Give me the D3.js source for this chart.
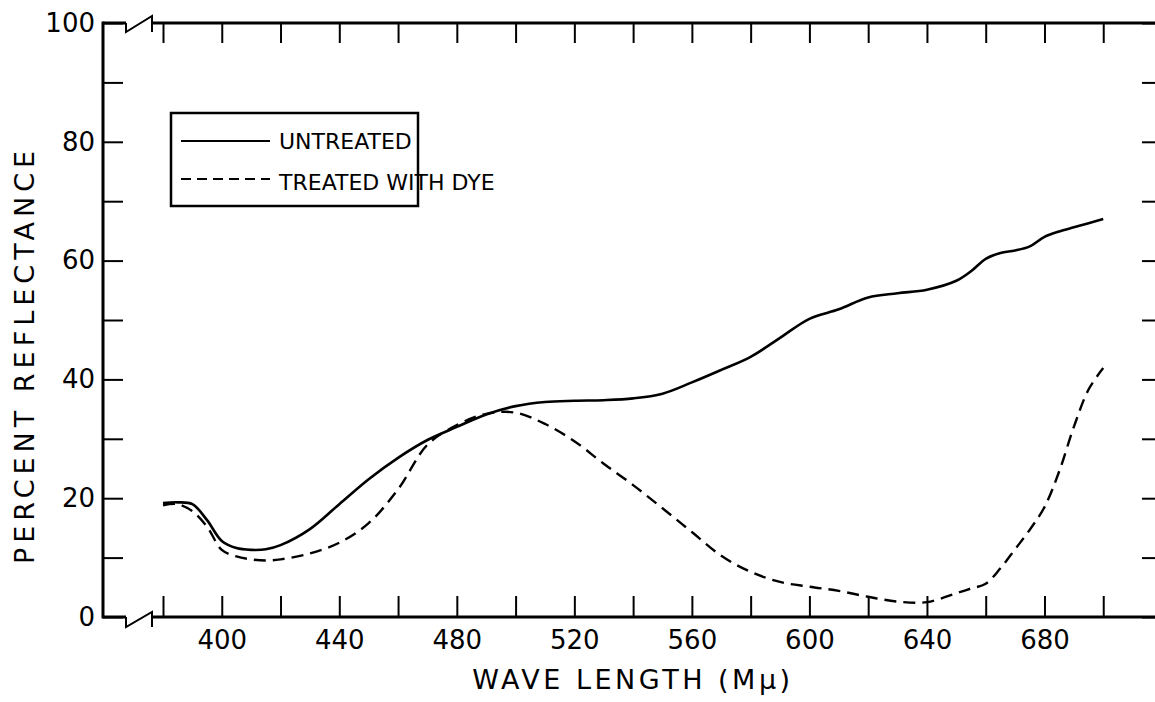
<!DOCTYPE html>
<html>
<head>
<meta charset="utf-8">
<script src="https://cdn.jsdelivr.net/npm/d3@7"></script>
<style>
  body { margin: 0; background: #fff; }
  svg { display: block; }
  svg text { font-family: "DejaVu Sans", sans-serif; fill: #000; }
</style>
</head>
<body>
<script>
// wavelength (m-mu) and percent reflectance
var wavelengths = [380, 385, 390, 395, 400, 405, 410, 415, 420, 430, 440, 450, 460, 470, 480,
                   490, 500, 510, 520, 530, 540, 550, 560, 570, 580, 590, 600, 610, 620, 630,
                   640, 650, 655, 660, 665, 670, 675, 680, 685, 690, 695, 700];
var untreated = [19.2, 19.3, 19.0, 16.3, 12.8, 11.6, 11.3, 11.4, 12.1, 14.8, 19.0, 23.2, 26.8, 29.8, 32.0,
                 34.1, 35.5, 36.2, 36.4, 36.5, 36.8, 37.6, 39.5, 41.6, 43.8, 47.0, 50.2, 51.8, 53.8, 54.5,
                 55.1, 56.6, 58.2, 60.3, 61.3, 61.7, 62.4, 64.0, 64.9, 65.6, 66.3, 67.0];
var treated = [18.8, 19.0, 17.8, 15.2, 11.3, 10.2, 9.7, 9.5, 9.7, 10.7, 12.5, 15.8, 21.5, 29.0, 32.3,
               34.2, 34.4, 32.5, 29.6, 25.8, 22.2, 18.3, 14.3, 10.3, 7.6, 5.9, 5.1, 4.4, 3.4, 2.6,
               2.5, 4.0, 4.8, 5.6, 8.2, 11.4, 14.7, 18.5, 24.5, 32.0, 38.3, 41.9];
var xTicks = d3.range(380, 721, 20);
var xLabels = [400, 440, 480, 520, 560, 600, 640, 680];
var yTicks = d3.range(0, 101, 10);
var yLabels = [0, 20, 40, 60, 80, 100];
var legendNames = ["UNTREATED", "TREATED WITH DYE"];

var width = 1155, height = 702;
var plotLeft = 103, plotTop = 23, plotBottom = 617;

var svg = d3.select('body')
    .append('svg')
    .attr('width', width)
    .attr('height', height);

var xscale = d3.scaleLinear().domain([380, 720]).range([163, 1162]);
var yscale = d3.scaleLinear().domain([0, 100]).range([plotBottom, plotTop]);

//bottom axis
var xAxisCall = d3.axisBottom(xscale)
    .tickValues(xTicks)
    .tickSizeInner(-21)
    .tickSizeOuter(0)
    .tickPadding(14)
    .tickFormat(function(d) { return xLabels.indexOf(d) >= 0 ? d : ""; });

var xAxis = svg.append('g')
    .attr('class', 'x-axis')
    .attr('transform', 'translate(0,' + plotBottom + ')')
    .call(xAxisCall);

//top axis, ticks only
var topAxis = svg.append('g')
    .attr('transform', 'translate(0,' + plotTop + ')')
    .call(d3.axisTop(xscale).tickValues(xTicks).tickSizeInner(-20).tickSizeOuter(0).tickFormat(""));

//left axis
var yAxisCall = d3.axisLeft(yscale)
    .tickValues(yTicks)
    .tickSizeInner(-20)
    .tickSizeOuter(0)
    .tickPadding(8)
    .tickFormat(function(d) { return yLabels.indexOf(d) >= 0 ? d : ""; });

var yAxis = svg.append('g')
    .attr('class', 'y-axis')
    .attr('transform', 'translate(' + plotLeft + ',0)')
    .call(yAxisCall);

//right axis sits at 720, just past the picture edge
var rightAxis = svg.append('g')
    .attr('transform', 'translate(' + xscale(720) + ',0)')
    .call(d3.axisRight(yscale).tickValues(yTicks).tickSizeInner(-20).tickSizeOuter(0).tickFormat(""));

svg.selectAll('.domain').remove();
svg.selectAll('.tick line').attr('stroke', '#000').attr('stroke-width', 2);
svg.selectAll('.tick text')
    .attr('fill', '#000')
    .style('font-family', '"DejaVu Sans", sans-serif')
    .style('font-size', '26px');

//frame with the axis breaks
var frame = svg.append('g')
    .attr('fill', 'none')
    .attr('stroke', '#000');

frame.append('path')
    .attr('stroke-width', 3)
    .attr('d', 'M' + plotLeft + ',' + (plotTop - 1.5) + 'V' + (plotBottom + 1.5));
frame.append('path')
    .attr('stroke-width', 3)
    .attr('d', 'M' + plotLeft + ',' + plotBottom + 'H126 M152,' + plotBottom + 'H' + xscale(720)
             + 'M' + plotLeft + ',' + plotTop + 'H126 M152,' + plotTop + 'H' + xscale(720));
frame.append('path')
    .attr('stroke-width', 2)
    .attr('d', 'M126,' + plotBottom + 'V' + (plotBottom + 10) + 'L152,' + (plotBottom - 5) + 'V' + (plotBottom + 10)
             + 'M126,' + plotTop + 'V' + (plotTop + 9) + 'L152,' + (plotTop - 7) + 'V' + (plotTop + 9));

//curves
var line = d3.line()
    .x(function(d, i) { return xscale(wavelengths[i]); })
    .y(function(d) { return yscale(d); })
    .curve(d3.curveCatmullRom.alpha(0.5));

svg.append('path')
    .datum(untreated)
    .attr('fill', 'none')
    .attr('stroke', '#000')
    .attr('stroke-width', 2.6)
    .attr('stroke-linejoin', 'round')
    .attr('d', line);

svg.append('path')
    .datum(treated)
    .attr('fill', 'none')
    .attr('stroke', '#000')
    .attr('stroke-width', 2.4)
    .attr('stroke-dasharray', '12,7')
    .attr('d', line);

//legend
var legend = svg.append('g');
legend.append('rect')
    .attr('x', 171).attr('y', 113)
    .attr('width', 247).attr('height', 93)
    .attr('fill', 'none')
    .attr('stroke', '#000')
    .attr('stroke-width', 2.5);

legend.selectAll('line')
    .data(legendNames).enter()
    .append('line')
    .attr('x1', 181).attr('x2', 270)
    .attr('y1', function(d, i) { return 141 + i * 38; })
    .attr('y2', function(d, i) { return 141 + i * 38; })
    .attr('stroke', '#000')
    .attr('stroke-width', 2.2)
    .attr('stroke-dasharray', function(d, i) { return i ? '10,6' : null; });

legend.selectAll('text')
    .data(legendNames).enter()
    .append('text')
    .attr('x', 279)
    .attr('y', function(d, i) { return 149 + i * 41; })
    .style('font-size', '22px')
    .text(function(d) { return d; });

//axis titles
svg.append('text')
    .attr('x', 633)
    .attr('y', 689)
    .attr('text-anchor', 'middle')
    .style('font-size', '27px')
    .style('letter-spacing', '3.5px')
    .text('WAVE LENGTH (M\u03bc)');

svg.append('text')
    .attr('transform', 'translate(34,355) rotate(-90)')
    .attr('text-anchor', 'middle')
    .style('font-size', '27px')
    .style('letter-spacing', '5px')
    .text('PERCENT REFLECTANCE');
</script>
</body>
</html>
